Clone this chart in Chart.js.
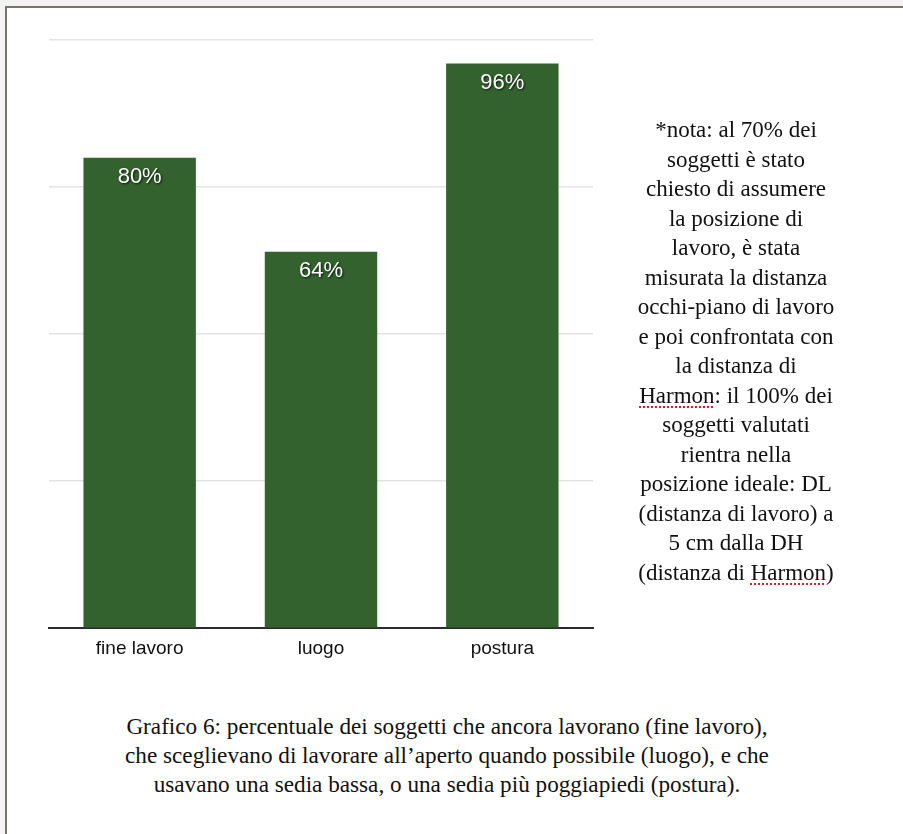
<!DOCTYPE html>
<html lang="it">
<head>
<meta charset="utf-8">
<script src="https://cdn.jsdelivr.net/npm/chart.js@4.4.1/dist/chart.umd.min.js"></script>
<style>
    html, body {
        margin: 0;
        padding: 0;
        width: 903px;
        height: 834px;
        overflow: hidden;
        background: #f3f3f3;
    }
    #page {
        position: absolute;
        left: 5px;
        top: 6px;
        right: -10px;
        bottom: -10px;
        background: #ffffff;
        border-top: 2px solid #78746b;
        border-left: 2px solid #78746b;
    }
    #chartBox {
        position: absolute;
        left: 0;
        top: 0;
        width: 620px;
        height: 680px;
    }
    #nota {
        position: absolute;
        left: 616px;
        top: 115px;
        width: 240px;
        text-align: center;
        font-family: "Liberation Serif", "Times New Roman", serif;
        font-size: 23px;
        line-height: 29.5px;
        color: #111;
    }
    #caption {
        position: absolute;
        left: 47px;
        top: 712px;
        width: 800px;
        text-align: center;
        font-family: "Liberation Serif", "Times New Roman", serif;
        font-size: 23.2px;
        line-height: 28.8px;
        color: #111;
    }
    .spell {
        text-decoration: underline dotted #d62020;
        text-decoration-thickness: 2px;
        text-underline-offset: 4px;
    }
</style>
</head>
<body>
<div id="page"></div>
<div id="chartBox"><canvas id="barChart" width="620" height="680"></canvas></div>

<div id="nota">
    *nota: al 70% dei<br>
    soggetti è stato<br>
    chiesto di assumere<br>
    la posizione di<br>
    lavoro, è stata<br>
    misurata la distanza<br>
    occhi-piano di lavoro<br>
    e poi confrontata con<br>
    la distanza di<br>
    <span class="spell">Harmon</span>: il 100% dei<br>
    soggetti valutati<br>
    rientra nella<br>
    posizione ideale: DL<br>
    (distanza di lavoro) a<br>
    5 cm dalla DH<br>
    (distanza di <span class="spell">Harmon</span>)
</div>

<div id="caption">
    Grafico 6: percentuale dei soggetti che ancora lavorano (fine lavoro),<br>
    che sceglievano di lavorare all’aperto quando possibile (luogo), e che<br>
    usavano una sedia bassa, o una sedia più poggiapiedi (postura).
</div>

<script>
// categorie e percentuali del grafico
const categories = ['fine lavoro', 'luogo', 'postura'];
const percentages = [80, 64, 96];
const yTicks = [0, 25, 50, 75, 100];

const barGreen = '#33622e';

// scrive la percentuale dentro la cima di ogni barra
const valueLabels = {
    id: 'valueLabels',
    afterDatasetsDraw(chart) {
        const ctx = chart.ctx;
        const meta = chart.getDatasetMeta(0);
        ctx.save();
        ctx.font = '22px "Liberation Sans", Arial, sans-serif';
        ctx.textAlign = 'center';
        ctx.textBaseline = 'middle';
        ctx.fillStyle = '#ffffff';
        ctx.shadowColor = 'rgba(0, 0, 0, 0.75)';
        ctx.shadowOffsetX = 1;
        ctx.shadowOffsetY = 1.5;
        ctx.shadowBlur = 2;
        meta.data.forEach((bar, i) => {
            ctx.fillText(percentages[i] + '%', bar.x, bar.y + 19);
        });
        ctx.restore();
    }
};

const ctx = document.getElementById('barChart').getContext('2d');
new Chart(ctx, {
    type: 'bar',
    data: {
        labels: categories,
        datasets: [{
            data: percentages,
            backgroundColor: barGreen,
            borderWidth: 0,
            barPercentage: 0.62,
            categoryPercentage: 1.0
        }]
    },
    options: {
        responsive: false,
        animation: false,
        layout: {
            padding: { left: 49, right: 27, top: 40, bottom: 11 }
        },
        plugins: {
            legend: { display: false },
            tooltip: { enabled: false }
        },
        scales: {
            x: {
                grid: { display: false, drawTicks: false },
                border: { display: true, color: '#2b2b2b', width: 2 },
                ticks: {
                    color: '#111',
                    padding: 9,
                    font: { family: '"Liberation Sans", Arial, sans-serif', size: 19 }
                }
            },
            y: {
                min: 0,
                max: 100,
                afterBuildTicks(axis) {
                    axis.ticks = yTicks.map(v => ({ value: v }));
                },
                grid: { color: '#e4e4e4', lineWidth: 1.5, drawTicks: false },
                border: { display: false },
                ticks: { display: false }
            }
        }
    },
    plugins: [valueLabels]
});
</script>
</body>
</html>
